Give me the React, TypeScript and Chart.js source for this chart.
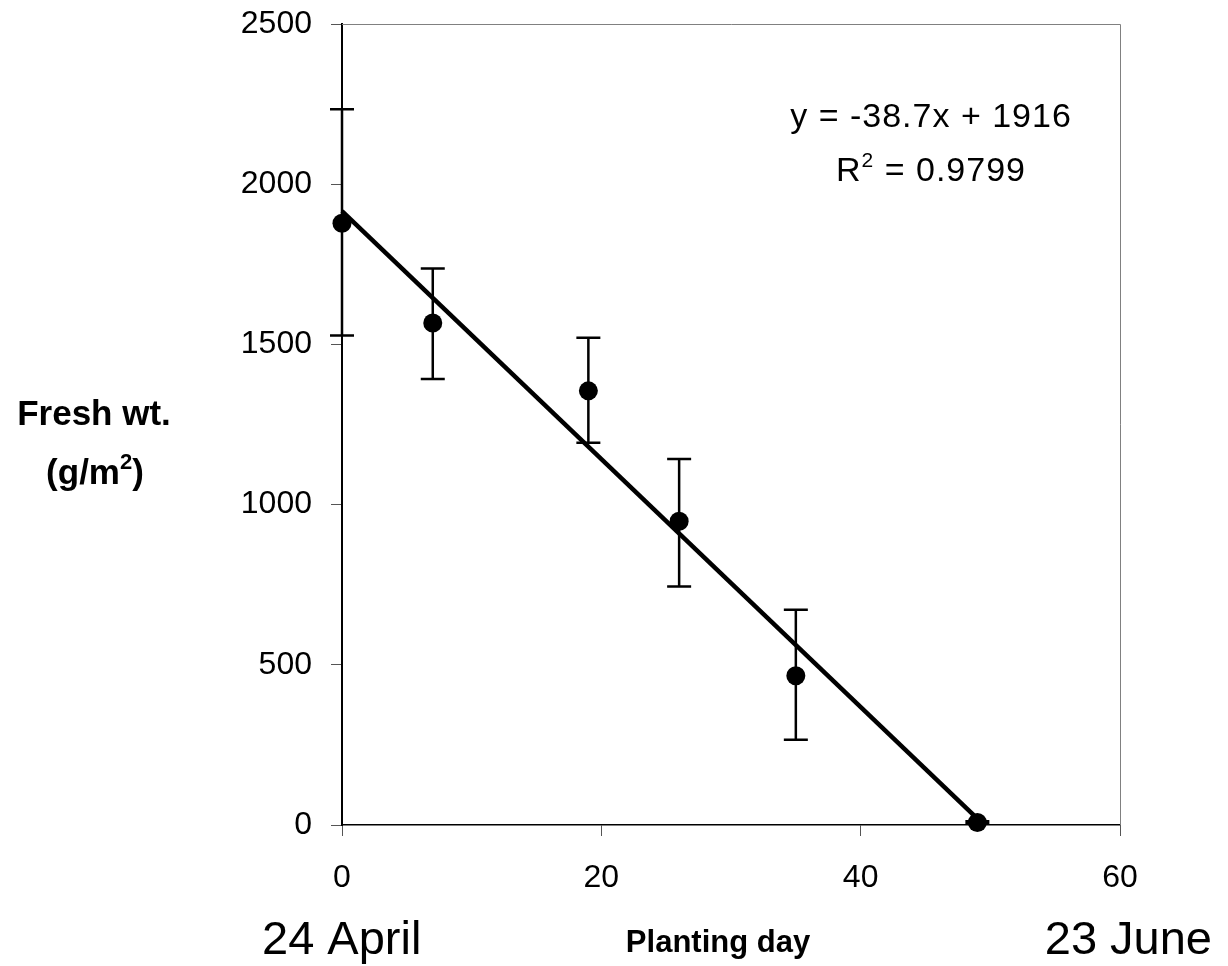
import React, { useEffect, useRef } from "react";
import { Chart, registerables } from "chart.js";

Chart.register(...registerables);

// ---- data ----
const days = [0, 7, 19, 26, 35, 49];
const freshWt = [1878, 1567, 1355, 948, 466, 8];
const errUp = [356, 170, 166, 194, 206, 4];
const errDown = [350, 175, 162, 204, 200, 4];
const trendX = [0, 49];
const trendY = [1916, 19.7];
const xTickValues = [0, 20, 40, 60];
const yTickValues = [0, 500, 1000, 1500, 2000, 2500];
const equationLabel = "y = -38.7x + 1916";
const r2Label = "0.9799";
const yTitleLine1 = "Fresh wt.";
const yTitleLine2a = "(g/m";
const yTitleSup = "2";
const yTitleLine2b = ")";
const xTitle = "Planting day";
const startDateLabel = "24 April";
const endDateLabel = "23 June";

const FONT = "'Liberation Sans', Arial, Helvetica, sans-serif";

const errorBarPlugin = {
  id: "errorBars",
  beforeDatasetsDraw(chart: any) {
    const { ctx, chartArea, scales } = chart;
    const x = scales.x;
    const y = scales.y;
    ctx.save();
    ctx.strokeStyle = "#808080";
    ctx.lineWidth = 1;
    ctx.beginPath();
    ctx.moveTo(chartArea.left, chartArea.top + 0.5);
    ctx.lineTo(chartArea.right + 0.5, chartArea.top + 0.5);
    ctx.lineTo(chartArea.right + 0.5, chartArea.bottom);
    ctx.stroke();
    ctx.strokeStyle = "#000";
    ctx.lineWidth = 2.5;
    days.forEach((d, i) => {
      const px = x.getPixelForValue(d);
      const top = y.getPixelForValue(freshWt[i] + errUp[i]);
      const bot = y.getPixelForValue(freshWt[i] - errDown[i]);
      ctx.beginPath();
      ctx.moveTo(px, top);
      ctx.lineTo(px, bot);
      ctx.moveTo(px - 12, top);
      ctx.lineTo(px + 12, top);
      ctx.moveTo(px - 12, bot);
      ctx.lineTo(px + 12, bot);
      ctx.stroke();
    });
    ctx.restore();
  },
};

function drawWithSup(ctx: any, parts: { t: string; sup?: boolean }[], cx: number, cy: number, size: number, weight: string) {
  const supSize = Math.round(size * 0.62);
  const widths = parts.map((p) => {
    ctx.font = `${weight} ${p.sup ? supSize : size}px ${FONT}`;
    return ctx.measureText(p.t).width;
  });
  const total = widths.reduce((a, b) => a + b, 0);
  let xPos = cx - total / 2;
  ctx.textAlign = "left";
  ctx.textBaseline = "middle";
  parts.forEach((p, i) => {
    ctx.font = `${weight} ${p.sup ? supSize : size}px ${FONT}`;
    ctx.fillText(p.t, xPos, p.sup ? cy - size * 0.32 : cy);
    xPos += widths[i];
  });
}

const textPlugin = {
  id: "texts",
  afterDraw(chart: any) {
    const { ctx } = chart;
    ctx.save();
    ctx.fillStyle = "#000";
    try {
      (ctx as any).letterSpacing = "1px";
    } catch (e) {}
    drawWithSup(ctx, [{ t: equationLabel }], 931, 118, 34, "normal");
    drawWithSup(ctx, [{ t: "R" }, { t: "2", sup: true }, { t: " = " + r2Label }], 931, 172, 34, "normal");
    try {
      (ctx as any).letterSpacing = "0px";
    } catch (e) {}
    drawWithSup(ctx, [{ t: yTitleLine1 }], 94, 415, 35, "bold");
    drawWithSup(ctx, [{ t: yTitleLine2a }, { t: yTitleSup, sup: true }, { t: yTitleLine2b }], 95, 474, 35, "bold");
    ctx.textBaseline = "middle";
    ctx.font = `normal 47px ${FONT}`;
    ctx.textAlign = "left";
    ctx.fillText(startDateLabel, 262, 941);
    ctx.textAlign = "right";
    ctx.fillText(endDateLabel, 1212, 941);
    ctx.font = `bold 31px ${FONT}`;
    ctx.textAlign = "center";
    ctx.fillText(xTitle, 718, 943);
    ctx.restore();
  },
};

export default function App() {
  const canvasRef = useRef<HTMLCanvasElement | null>(null);

  useEffect(() => {
    const canvas = canvasRef.current;
    if (!canvas) return;
    const chart = new Chart(canvas, {
      type: "scatter",
      data: {
        datasets: [
          {
            label: "Fresh wt.",
            data: days.map((d, i) => ({ x: d, y: freshWt[i] })),
            backgroundColor: "#000",
            borderColor: "#000",
            borderWidth: 0,
            pointRadius: 9.5,
            pointHoverRadius: 9.5,
            clip: false as any,
          },
          {
            type: "line" as any,
            label: "Trend",
            data: trendX.map((d, i) => ({ x: d, y: trendY[i] })),
            borderColor: "#000",
            borderWidth: 4.5,
            pointRadius: 0,
            fill: false,
            showLine: true,
            clip: false as any,
          },
        ],
      },
      options: {
        animation: false,
        responsive: false,
        events: [],
        layout: { padding: { left: 0, top: 24, right: 108, bottom: 0 } },
        plugins: {
          legend: { display: false },
          tooltip: { enabled: false },
          title: { display: false },
        },
        scales: {
          x: {
            type: "linear",
            min: 0,
            max: 60,
            afterFit: (scale: any) => {
              scale.height = 141;
              scale.paddingLeft = 0;
              scale.paddingRight = 0;
            },
            afterBuildTicks: (scale: any) => {
              scale.ticks = xTickValues.map((v) => ({ value: v }));
            },
            grid: {
              drawOnChartArea: false,
              drawTicks: true,
              tickLength: 11,
              color: "#555",
              lineWidth: 1,
            },
            border: { display: true, color: "#000", width: 1.5 },
            ticks: {
              color: "#000",
              font: { family: FONT, size: 32 },
              padding: 23,
              maxRotation: 0,
              autoSkip: false,
              callback: (v: any) => String(v),
            },
          },
          y: {
            type: "linear",
            min: 0,
            max: 2500,
            afterFit: (scale: any) => {
              scale.width = 342;
              scale.paddingTop = 0;
              scale.paddingBottom = 0;
            },
            afterBuildTicks: (scale: any) => {
              scale.ticks = yTickValues.map((v) => ({ value: v }));
            },
            grid: {
              drawOnChartArea: false,
              drawTicks: true,
              tickLength: 11,
              color: "#555",
              lineWidth: 1,
            },
            border: { display: true, color: "#000", width: 2 },
            ticks: {
              color: "#000",
              font: { family: FONT, size: 32 },
              padding: 19,
              autoSkip: false,
              callback: (v: any) => String(v),
            },
          },
        },
      },
      plugins: [errorBarPlugin, textPlugin],
    } as any);
    return () => chart.destroy();
  }, []);

  return (
    <div style={{ position: "absolute", left: 0, top: 0, width: 1228, height: 966, background: "#fff" }}>
      <canvas ref={canvasRef} width={1228} height={966} style={{ display: "block", width: 1228, height: 966 }} />
    </div>
  );
}
